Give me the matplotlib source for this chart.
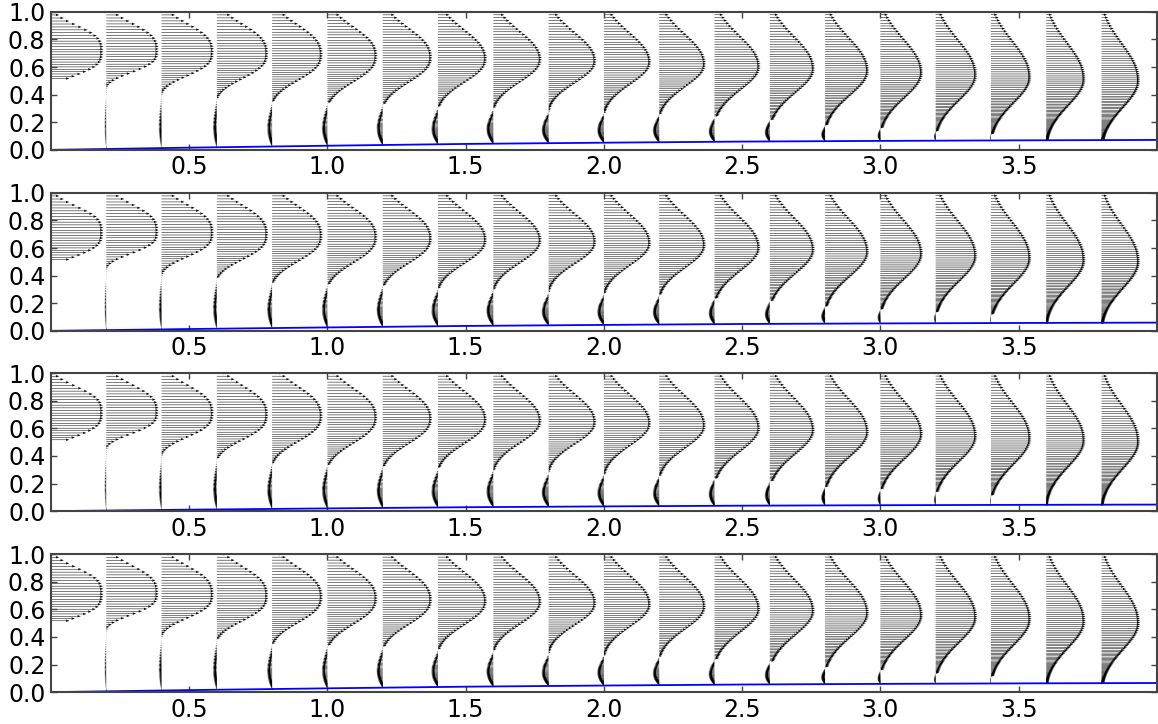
import numpy as np
import matplotlib
matplotlib.use("Agg")
import matplotlib.pyplot as plt


# velocity profile stations along the channel
station_x = [0.0, 0.2, 0.4, 0.6, 0.8, 1.0, 1.2, 1.4, 1.6, 1.8,
             2.0, 2.2, 2.4, 2.6, 2.8, 3.0, 3.2, 3.4, 3.6, 3.8]

# jet core height and peak velocity at each station
peak_y = [0.72, 0.72, 0.71, 0.70, 0.69, 0.68, 0.67, 0.66, 0.655, 0.645,
          0.635, 0.62, 0.60, 0.585, 0.57, 0.555, 0.54, 0.525, 0.51, 0.50]
peak_u = [0.190, 0.190, 0.190, 0.187, 0.184, 0.182, 0.180, 0.178, 0.176, 0.174,
          0.172, 0.170, 0.167, 0.164, 0.160, 0.155, 0.151, 0.147, 0.143, 0.140]

# half-widths and flatness of the jet above its core
up_w = [0.21, 0.23, 0.24, 0.25, 0.26, 0.26, 0.265, 0.27, 0.27, 0.27,
        0.28, 0.29, 0.30, 0.31, 0.32, 0.33, 0.34, 0.345, 0.35, 0.355]
up_p = [3.0, 2.9, 2.8, 2.7, 2.6, 2.5, 2.4, 2.3, 2.2, 2.2,
        2.2, 2.2, 2.2, 2.2, 2.2, 2.2, 2.2, 2.2, 2.2, 2.2]

# half-widths and flatness of the jet below its core
dn_w = [0.20, 0.18, 0.20, 0.215, 0.225, 0.23, 0.225, 0.22, 0.215, 0.21,
        0.215, 0.22, 0.23, 0.24, 0.245, 0.25, 0.255, 0.26, 0.265, 0.27]
dn_p = [3.5, 3.2, 3.0, 2.8, 2.6, 2.5, 2.4, 2.3, 2.2, 2.2,
        2.1, 2.1, 2.0, 2.0, 2.0, 2.0, 2.0, 2.0, 2.0, 2.0]

# backflow region under the jet: top of the region and strongest return flow
back_top = [0.51, 0.43, 0.40, 0.38, 0.35, 0.34, 0.33, 0.31, 0.30, 0.28,
            0.27, 0.26, 0.24, 0.22, 0.18, 0.16, 0.14, 0.12, 0.10, 0.09]
back_u = [0.0, 0.007, 0.011, 0.015, 0.019, 0.021, 0.023, 0.025, 0.026, 0.026,
          0.025, 0.024, 0.022, 0.019, 0.015, 0.011, 0.007, 0.004, 0.0, 0.0]

# bed profile (bottom boundary)
bed_x = [0.0, 0.25, 0.5, 1.0, 1.5, 2.0, 2.5, 3.0, 3.5, 4.0]
bed_y = [0.0, 0.008, 0.016, 0.030, 0.043, 0.052, 0.060, 0.065, 0.069, 0.072]

# bed growth for each of the four runs
run_bed = [1.0, 0.83, 0.66, 0.92]

x_ticks = [0.5, 1.0, 1.5, 2.0, 2.5, 3.0, 3.5]
y_ticks = [0.0, 0.2, 0.4, 0.6, 0.8, 1.0]

n_levels = 90


def profile(i, bed):
    # stretched grid, finer towards the bed
    s = np.linspace(0, 1, n_levels)
    y = bed + (1 - bed) * s ** 2
    if i == 0:
        y = y[y >= back_top[0]]
    d = np.abs(y - peak_y[i])
    u = np.where(y >= peak_y[i],
                 peak_u[i] * np.exp(-(d / up_w[i]) ** up_p[i]),
                 peak_u[i] * np.exp(-(d / dn_w[i]) ** dn_p[i]))
    if back_u[i] > 0:
        low = y < back_top[i]
        t = (y[low] - bed) / (back_top[i] - bed)
        u[low] = -back_u[i] * np.sin(np.pi * t ** 0.8)
    return y, u


fig = plt.figure(figsize=(11.58, 7.24), dpi=100)

bottoms = [0.793, 0.543, 0.294, 0.044]
for k in range(4):
    ax = fig.add_axes([0.044, bottoms[k], 0.955, 0.1906])
    bed_run = np.array(bed_y) * run_bed[k]

    for i in range(len(station_x)):
        bed = np.interp(station_x[i], bed_x, bed_run)
        if i == 0:
            bed = 0.0
        y, u = profile(i, bed)
        x0 = np.full_like(y, station_x[i])
        ax.quiver(x0, y, u, np.zeros_like(u), angles='xy', scale_units='xy',
                  scale=1, units='dots', width=0.5, headwidth=5,
                  headlength=7, headaxislength=6, color='black')

    ax.plot(bed_x, bed_run, color='blue', lw=1.3)

    ax.set_xlim(0, 4)
    ax.set_ylim(0, 1)
    ax.set_xticks(x_ticks)
    ax.set_yticks(y_ticks)
    ax.set_xticklabels(['%.1f' % v for v in x_ticks])
    ax.set_yticklabels(['%.1f' % v for v in y_ticks])
    ax.tick_params(direction='in', length=4, width=1, colors='#444444',
                   top=True, right=True, labelsize=17, labelcolor='black',
                   pad=4)
    for sp in ax.spines.values():
        sp.set_color('#444444')
        sp.set_linewidth(1.5)

fig.savefig('out.png', dpi=100)
